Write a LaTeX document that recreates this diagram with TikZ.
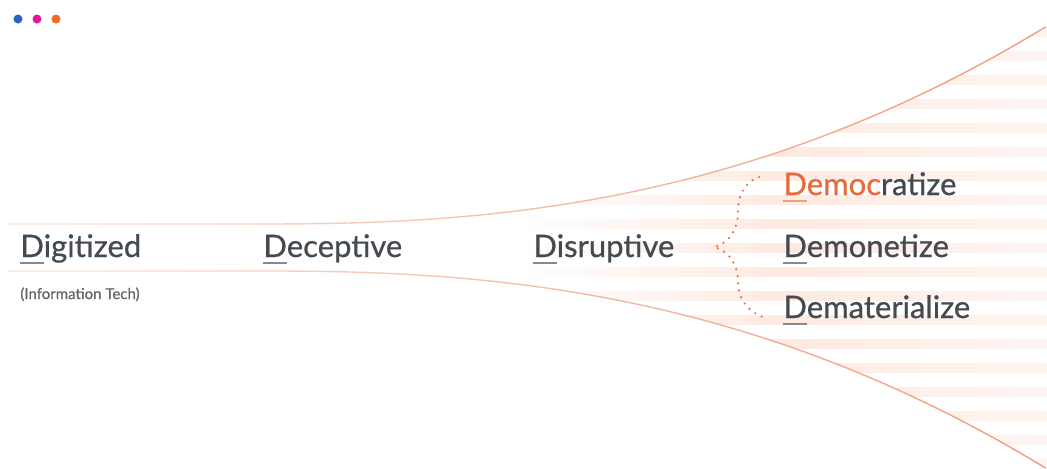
\documentclass[tikz,border=0pt]{standalone}
\usepackage{fontspec}
\setmainfont{Lato}[FakeBold=0.7]
\usetikzlibrary{fadings}

\definecolor{textgray}{HTML}{454A50}
\definecolor{accent}{HTML}{E8693C}
\definecolor{funnelline}{HTML}{EF9B7C}
\definecolor{stripe}{HTML}{FDEAE1}
\definecolor{dotblue}{HTML}{2F5FC4}
\definecolor{dotpink}{HTML}{E0189A}
\definecolor{dotorange}{HTML}{F06A28}

\tikzfading[name=fadeleft, left color=transparent!72, right color=transparent!0]

% underline only the first letter
\newcommand{\firstD}[1]{\setbox0\hbox{#1}\rlap{\color{.!65}\rule[-0.22em]{\wd0}{0.07em}}#1}

\begin{document}
\begin{tikzpicture}[x=0.5pt, y=-0.5pt,
    every node/.style={font=\fontsize{15.5}{18}\selectfont, text=textgray, inner sep=0pt, anchor=base west},
    funnel/.style={draw=funnelline, line width=0.7pt, path fading=fadeleft},
    dottedbrace/.style={draw=accent, line width=1.2pt, line cap=round, dash pattern=on 0pt off 3.6pt}]
    \useasboundingbox (0,0) rectangle (1047,468);

    % Window dots
    \fill[dotblue] (18,19) circle (4.5);
    \fill[dotpink] (37,19) circle (4.5);
    \fill[dotorange] (56,19) circle (4.5);

    % Stripes inside the funnel
    \begin{scope}
        \clip (8,224) -- (262,224) -- plot[domain=262:1047, samples=60] (\x, {224-11*pow((\x-260)/240,2.43)})
            -- (1047,471) -- plot[domain=1047:262, samples=60] (\x, {271+11*pow((\x-260)/240,2.43)}) -- (8,271) -- cycle;
        \foreach \k in {-9,...,9}
            \shade[left color=white, right color=stripe!45!white, middle color=stripe]
                (520,{247.5+24*\k-4.5}) rectangle (1047,{247.5+24*\k+4.5});
    \end{scope}

    % Funnel edges
    \draw[funnel] (8,224) -- (262,224) -- plot[domain=262:1047, samples=60] (\x, {224-11*pow((\x-260)/240,2.43)});
    \draw[funnel] (8,271) -- (262,271) -- plot[domain=262:1047, samples=60] (\x, {271+11*pow((\x-260)/240,2.43)});

    % Stages
    \node (digitized) at (20,257) {\firstD{D}igitized};
    \node[font=\fontsize{7.5}{9}\selectfont, text=textgray!85] (infotech) at (20,299) {(Information Tech)};
    \node (deceptive) at (263,257) {\firstD{D}eceptive};
    \node (disruptive) at (533,257) {\firstD{D}isruptive};

    % Dotted brace
    \draw[dottedbrace] (759,177) to[out=200,in=90] (738,212) to[out=-90,in=15] (714,247)
        to[out=-15,in=90] (738,282) to[out=-90,in=160] (765,318);

    % Outcomes
    \node (democratize) at (783,195) {\textcolor{accent}{\firstD{D}emoc}ratize};
    \node (demonetize) at (783,257) {\firstD{D}emonetize};
    \node (dematerialize) at (783,318) {\firstD{D}ematerialize};
\end{tikzpicture}
\end{document}
